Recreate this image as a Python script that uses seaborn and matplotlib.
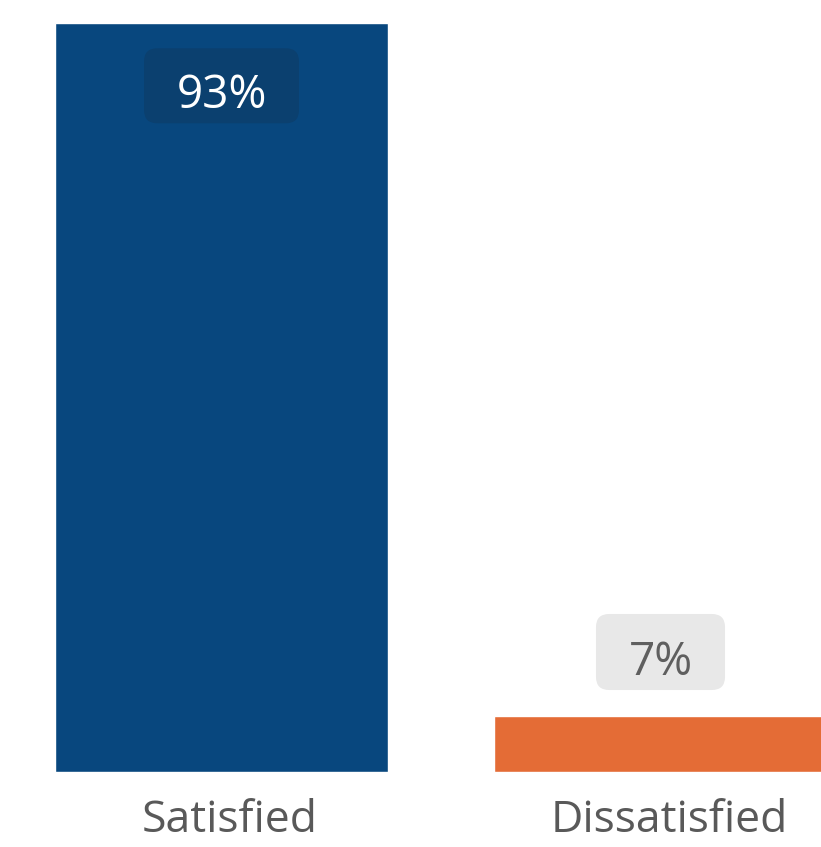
import matplotlib
matplotlib.use("Agg")
import matplotlib.pyplot as plt
import matplotlib.transforms as mtransforms
from matplotlib.patches import FancyBboxPatch
import seaborn as sns
import pandas as pd

# data
categories = ["Satisfied", "Dissatisfied"]
values = [93, 7]
labels = ["93%", "7%"]
colors = ["#08477E", "#E46C36"]

sns.set_style("white")
plt.rcParams['font.family'] = ['Open Sans', 'DejaVu Sans']

df = pd.DataFrame({"cat": categories, "val": values})

fig = plt.figure(figsize=(8.21, 8.47), dpi=100)
ax = fig.add_axes([0, 75 / 847, 1, 772 / 847])
sns.barplot(data=df, x="cat", y="val", hue="cat", palette=colors,
            width=0.7585, saturation=1, legend=False, ax=ax)

xmin, xmax = -0.5046, 1.3656
ax.set_xlim(xmin, xmax)
ax.set_ylim(0, 95.85)
sns.despine(ax=ax, left=True, bottom=True)
ax.set_yticks([])
ax.set_xlabel("")
ax.set_ylabel("")
ax.tick_params(axis="x", length=0, pad=19, labelsize=32, labelcolor="#595959")
shift = mtransforms.ScaledTranslation(0.085, 0, fig.dpi_scale_trans)
for t in ax.get_xticklabels():
    t.set_transform(t.get_transform() + shift)

# y-units per pixel vs x-units per pixel, so corners stay round
aspect = (95.85 / 772) / ((xmax - xmin) / 821)

# value labels in rounded boxes
for i, (v, lab) in enumerate(zip(values, labels)):
    if i == 0:
        bw, bh, yc, base = 0.353, 9.31, v - 7.8, v - 10.55
        fc, tc = "#0B406F", "white"
    else:
        bw, bh, yc, base = 0.294, 9.44, v + 7.9, v + 5.05
        fc, tc = "#E8E8E8", "#5F5F5F"
    box = FancyBboxPatch((i - bw / 2, yc - bh / 2), bw, bh,
                         boxstyle="round,pad=0,rounding_size=0.03",
                         mutation_aspect=aspect, fc=fc, ec="none", zorder=3)
    ax.add_patch(box)
    ax.text(i, base, lab, ha="center", va="baseline", fontsize=33,
            color=tc, zorder=4)

fig.savefig("out.png", dpi=100)
